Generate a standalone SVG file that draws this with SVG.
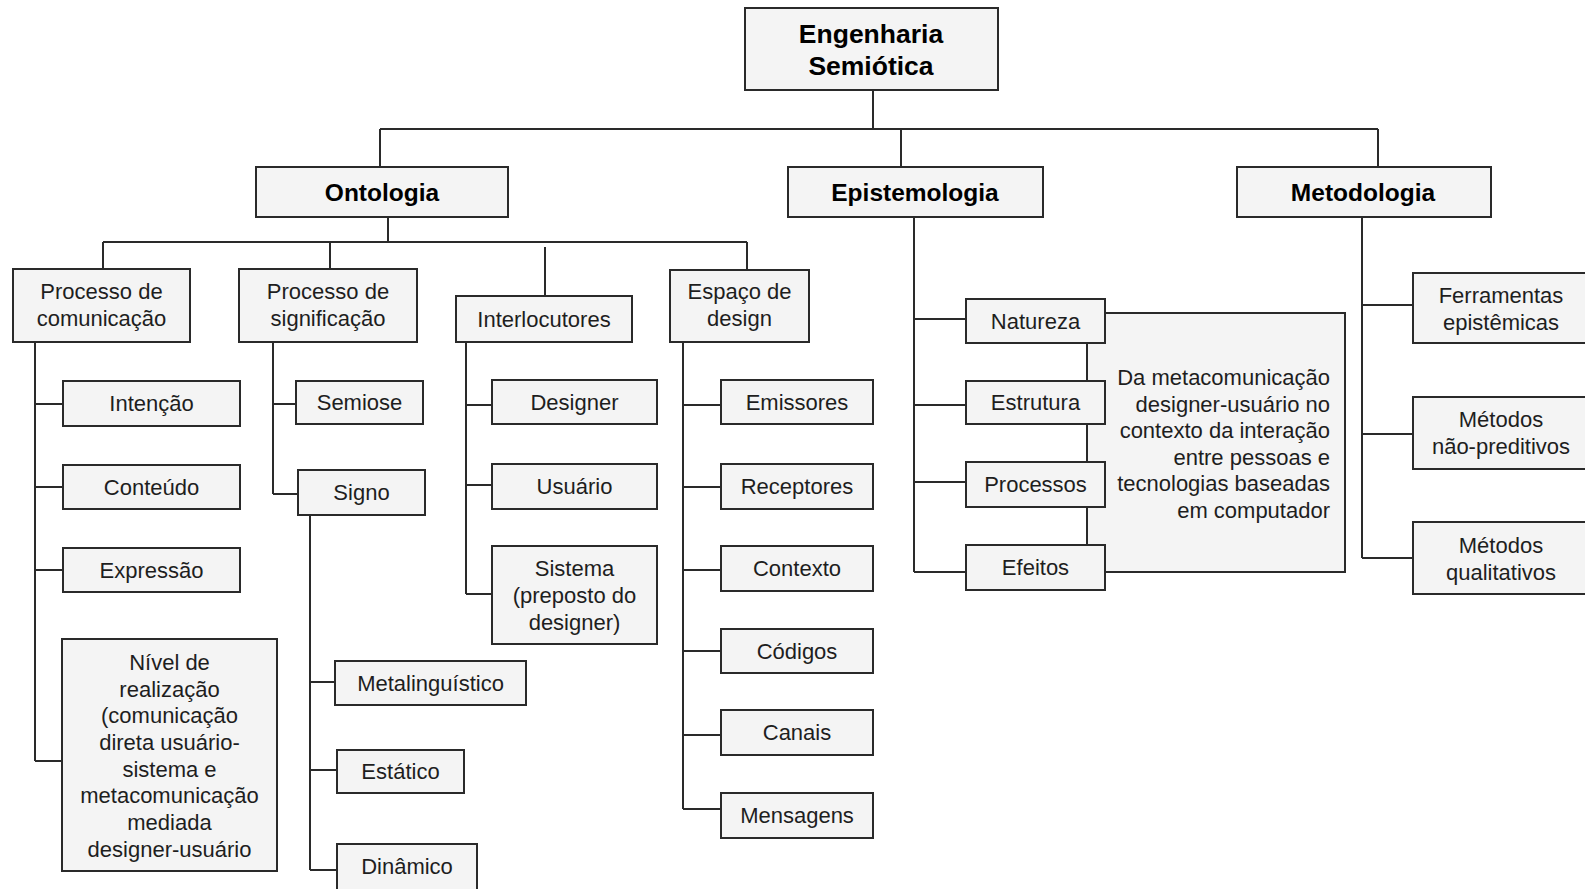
<svg xmlns="http://www.w3.org/2000/svg" width="1585" height="889" viewBox="0 0 1585 889">
  <style>
    .box { fill: #f4f4f4; stroke: #2a2a2a; stroke-width: 2; }
    .wire { fill: none; stroke: #2a2a2a; stroke-width: 2; }
    .t { font-family: "Liberation Sans", Arial, sans-serif; font-size: 22px; fill: #1e1e1e; text-anchor: middle; }
    .b { font-family: "Liberation Sans", Arial, sans-serif; font-weight: bold; fill: #000; text-anchor: middle; }
    .r { text-anchor: end; }
  </style>
  <rect width="1585" height="889" fill="#ffffff"/>

  <!-- connectors -->
  <g id="connectors" class="wire">
    <!-- root to level 1 -->
    <path d="M873 90 V129 M380 129 H1378 M380 129 V167 M901 129 V167 M1378 129 V167"/>
    <!-- Ontologia to level 2 -->
    <path d="M388 217 V242 M103 242 H747 M103 242 V269 M330 242 V269 M545 247 V296 M747 242 V270"/>
    <!-- Processo de comunicação -->
    <path d="M35 342 V761 M35 404 H63 M35 487 H63 M35 570 H63 M35 761 H62"/>
    <!-- Processo de significação -->
    <path d="M273 342 V494 M273 404 H296 M273 494 H298"/>
    <!-- Signo -->
    <path d="M310 515 V870 M310 682 H335 M310 770 H337 M310 870 H337"/>
    <!-- Interlocutores -->
    <path d="M466 342 V594 M466 405 H492 M466 485 H492 M466 594 H492"/>
    <!-- Espaço de design -->
    <path d="M683 342 V809 M683 405 H721 M683 487 H721 M683 570 H721 M683 651 H721 M683 735 H721 M683 809 H721"/>
    <!-- Epistemologia -->
    <path d="M914 217 V572 M914 319 H966 M914 405 H966 M914 482 H966 M914 572 H966"/>
    <!-- Metodologia -->
    <path d="M1362 217 V558 M1362 305 H1413 M1362 434 H1413 M1362 558 H1413"/>
  </g>

  <!-- root -->
  <g id="engenharia-semiotica">
    <rect class="box" x="745" y="8" width="253" height="82"/>
    <text class="b" x="871" y="43" font-size="26.5">Engenharia</text>
    <text class="b" x="871" y="75" font-size="26.5">Semiótica</text>
  </g>

  <!-- level 1 -->
  <g id="ontologia">
    <rect class="box" x="256" y="167" width="252" height="50"/>
    <text class="b" x="382" y="201" font-size="24.5">Ontologia</text>
  </g>
  <g id="epistemologia">
    <rect class="box" x="788" y="167" width="255" height="50"/>
    <text class="b" x="915" y="201" font-size="24.5">Epistemologia</text>
  </g>
  <g id="metodologia">
    <rect class="box" x="1237" y="167" width="254" height="50"/>
    <text class="b" x="1363" y="201" font-size="24.5">Metodologia</text>
  </g>

  <!-- Ontologia branch -->
  <g id="processo-comunicacao">
    <rect class="box" x="13" y="269" width="177" height="73"/>
    <text class="t" x="101.5" y="299">Processo de</text>
    <text class="t" x="101.5" y="326">comunicação</text>
  </g>
  <g id="intencao">
    <rect class="box" x="63" y="381" width="177" height="45"/>
    <text class="t" x="151.5" y="411">Intenção</text>
  </g>
  <g id="conteudo">
    <rect class="box" x="63" y="465" width="177" height="44"/>
    <text class="t" x="151.5" y="495">Conteúdo</text>
  </g>
  <g id="expressao">
    <rect class="box" x="63" y="548" width="177" height="44"/>
    <text class="t" x="151.5" y="578">Expressão</text>
  </g>
  <g id="nivel-realizacao">
    <rect class="box" x="62" y="639" width="215" height="232"/>
    <text class="t" x="169.5" y="670">Nível de</text>
    <text class="t" x="169.5" y="697">realização</text>
    <text class="t" x="169.5" y="723">(comunicação</text>
    <text class="t" x="169.5" y="750">direta usuário-</text>
    <text class="t" x="169.5" y="777">sistema e</text>
    <text class="t" x="169.5" y="803">metacomunicação</text>
    <text class="t" x="169.5" y="830">mediada</text>
    <text class="t" x="169.5" y="857">designer-usuário</text>
  </g>

  <g id="processo-significacao">
    <rect class="box" x="239" y="269" width="178" height="73"/>
    <text class="t" x="328" y="299">Processo de</text>
    <text class="t" x="328" y="326">significação</text>
  </g>
  <g id="semiose">
    <rect class="box" x="296" y="381" width="127" height="43"/>
    <text class="t" x="359.5" y="410">Semiose</text>
  </g>
  <g id="signo">
    <rect class="box" x="298" y="470" width="127" height="45"/>
    <text class="t" x="361.5" y="500">Signo</text>
  </g>
  <g id="metalinguistico">
    <rect class="box" x="335" y="661" width="191" height="44"/>
    <text class="t" x="430.5" y="691">Metalinguístico</text>
  </g>
  <g id="estatico">
    <rect class="box" x="337" y="750" width="127" height="43"/>
    <text class="t" x="400.5" y="779">Estático</text>
  </g>
  <g id="dinamico">
    <rect class="box" x="337" y="844" width="140" height="46"/>
    <text class="t" x="407" y="874">Dinâmico</text>
  </g>

  <g id="interlocutores">
    <rect class="box" x="456" y="296" width="176" height="46"/>
    <text class="t" x="544" y="327">Interlocutores</text>
  </g>
  <g id="designer">
    <rect class="box" x="492" y="380" width="165" height="44"/>
    <text class="t" x="574.5" y="410">Designer</text>
  </g>
  <g id="usuario">
    <rect class="box" x="492" y="464" width="165" height="45"/>
    <text class="t" x="574.5" y="494">Usuário</text>
  </g>
  <g id="sistema">
    <rect class="box" x="492" y="546" width="165" height="98"/>
    <text class="t" x="574.5" y="576">Sistema</text>
    <text class="t" x="574.5" y="603">(preposto do</text>
    <text class="t" x="574.5" y="630">designer)</text>
  </g>

  <g id="espaco-design">
    <rect class="box" x="670" y="270" width="139" height="72"/>
    <text class="t" x="739.5" y="299">Espaço de</text>
    <text class="t" x="739.5" y="326">design</text>
  </g>
  <g id="emissores">
    <rect class="box" x="721" y="380" width="152" height="44"/>
    <text class="t" x="797" y="410">Emissores</text>
  </g>
  <g id="receptores">
    <rect class="box" x="721" y="464" width="152" height="45"/>
    <text class="t" x="797" y="494">Receptores</text>
  </g>
  <g id="contexto">
    <rect class="box" x="721" y="546" width="152" height="45"/>
    <text class="t" x="797" y="576">Contexto</text>
  </g>
  <g id="codigos">
    <rect class="box" x="721" y="629" width="152" height="44"/>
    <text class="t" x="797" y="659">Códigos</text>
  </g>
  <g id="canais">
    <rect class="box" x="721" y="710" width="152" height="45"/>
    <text class="t" x="797" y="740">Canais</text>
  </g>
  <g id="mensagens">
    <rect class="box" x="721" y="793" width="152" height="45"/>
    <text class="t" x="797" y="823">Mensagens</text>
  </g>

  <!-- Epistemologia branch -->
  <g id="metacomunicacao">
    <rect class="box" x="1087" y="313" width="258" height="259"/>
    <text class="t r" x="1330" y="385">Da metacomunicação</text>
    <text class="t r" x="1330" y="411.6">designer-usuário no</text>
    <text class="t r" x="1330" y="438.2">contexto da interação</text>
    <text class="t r" x="1330" y="464.8">entre pessoas e</text>
    <text class="t r" x="1330" y="491.4">tecnologias baseadas</text>
    <text class="t r" x="1330" y="518">em computador</text>
  </g>
  <g id="natureza">
    <rect class="box" x="966" y="299" width="139" height="44"/>
    <text class="t" x="1035.5" y="329">Natureza</text>
  </g>
  <g id="estrutura">
    <rect class="box" x="966" y="381" width="139" height="43"/>
    <text class="t" x="1035.5" y="410">Estrutura</text>
  </g>
  <g id="processos">
    <rect class="box" x="966" y="462" width="139" height="45"/>
    <text class="t" x="1035.5" y="492">Processos</text>
  </g>
  <g id="efeitos">
    <rect class="box" x="966" y="545" width="139" height="45"/>
    <text class="t" x="1035.5" y="575">Efeitos</text>
  </g>

  <!-- Metodologia branch -->
  <g id="ferramentas-epistemicas">
    <rect class="box" x="1413" y="273" width="180" height="70"/>
    <text class="t" x="1501" y="303">Ferramentas</text>
    <text class="t" x="1501" y="330">epistêmicas</text>
  </g>
  <g id="metodos-nao-preditivos">
    <rect class="box" x="1413" y="397" width="180" height="72"/>
    <text class="t" x="1501" y="427">Métodos</text>
    <text class="t" x="1501" y="454">não-preditivos</text>
  </g>
  <g id="metodos-qualitativos">
    <rect class="box" x="1413" y="522" width="180" height="72"/>
    <text class="t" x="1501" y="553">Métodos</text>
    <text class="t" x="1501" y="580">qualitativos</text>
  </g>
</svg>
